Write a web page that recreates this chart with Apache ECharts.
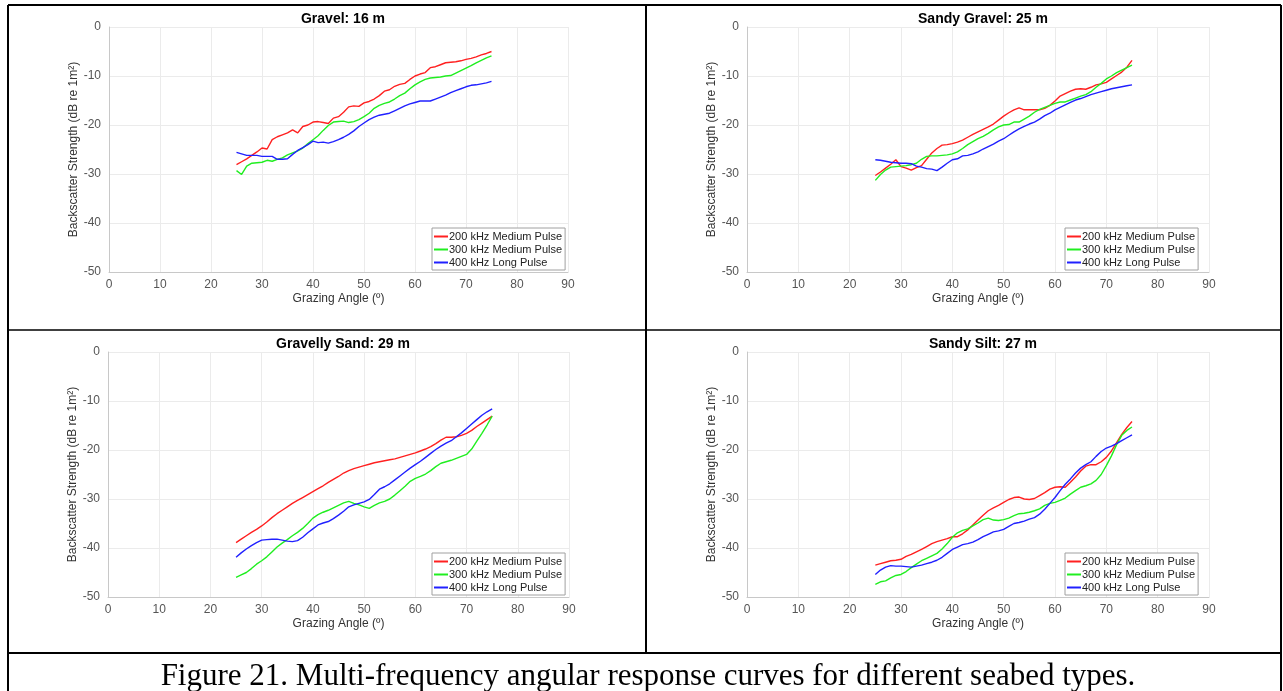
<!DOCTYPE html>
<html>
<head>
<meta charset="utf-8">
<title>Figure 21</title>
<script src="https://cdn.jsdelivr.net/npm/echarts@6/dist/echarts.min.js"></script>
<style>
  html, body { margin: 0; padding: 0; background: #fff; }
  #chart { width: 1283px; height: 691px; }
</style>
</head>
<body>
<div id="chart"></div>
<script>
// grazing angles (deg), same for every curve
const angles = [25,26,27,28,29,30,31,32,33,34,35,36,37,38,39,40,41,42,43,44,45,46,47,48,49,50,
  51,52,53,54,55,56,57,58,59,60,61,62,63,64,65,66,67,68,69,70,71,72,73,74,75]

const legendNames = ['200 kHz Medium Pulse', '300 kHz Medium Pulse', '400 kHz Long Pulse']
const panelTitles = ['Gravel: 16 m', 'Sandy Gravel: 25 m', 'Gravelly Sand: 29 m', 'Sandy Silt: 27 m']
const xTicks = [0, 10, 20, 30, 40, 50, 60, 70, 80, 90]
const yTicks = [-50, -40, -30, -20, -10, 0]

// Gravel: 16 m
const gravel200 = [-28.1,-27.5,-26.9,-26.2,-25.5,-24.7,-24.9,-23.0,-22.4,-22.0,-21.6,-21.0,-21.6,-20.3,-20.0,-19.4,-19.3,-19.5,-19.7,-18.6,
  -18.3,-17.4,-16.3,-16.1,-16.2,-15.5,-15.2,-14.7,-14.0,-13.1,-12.8,-12.1,-11.7,-11.5,-10.7,-10.0,-9.6,-9.3,-8.3,-8.1,
  -7.7,-7.3,-7.2,-7.1,-6.9,-6.6,-6.4,-6.1,-5.7,-5.4,-5.0]
const gravel300 = [-29.3,-30.1,-28.4,-27.8,-27.7,-27.6,-27.2,-27.4,-27.0,-26.7,-26.1,-25.7,-25.3,-24.7,-23.8,-23.0,-22.2,-21.1,-20.1,-19.4,
  -19.3,-19.2,-19.5,-19.3,-18.9,-18.3,-17.6,-16.6,-16.0,-15.6,-15.3,-14.7,-14.0,-13.5,-12.6,-11.8,-11.2,-10.7,-10.4,-10.3,
  -10.2,-10.0,-9.9,-9.4,-8.9,-8.4,-7.9,-7.3,-6.8,-6.3,-5.9]
const gravel400 = [-25.6,-25.9,-26.2,-26.2,-26.2,-26.4,-26.4,-26.4,-27.0,-27.0,-26.9,-26.0,-25.2,-24.6,-24.0,-23.3,-23.6,-23.5,-23.7,-23.4,
  -23.0,-22.5,-21.9,-21.2,-20.3,-19.6,-18.9,-18.4,-18.0,-17.8,-17.6,-17.1,-16.6,-16.1,-15.7,-15.4,-15.1,-15.1,-15.1,-14.7,
  -14.3,-13.9,-13.4,-13.0,-12.6,-12.2,-11.9,-11.8,-11.6,-11.4,-11.1]

// Sandy Gravel: 25 m
const sandyGravel200 = [-30.3,-29.6,-28.8,-28.0,-27.1,-28.5,-28.8,-29.2,-28.7,-28.3,-27.0,-25.7,-24.8,-24.1,-24.0,-23.8,-23.5,-23.1,-22.5,-21.9,
  -21.4,-20.9,-20.4,-19.8,-19.0,-18.2,-17.5,-16.9,-16.5,-16.9,-16.9,-16.9,-16.9,-16.6,-16.0,-15.1,-14.1,-13.6,-13.1,-12.7,
  -12.6,-12.7,-12.3,-11.8,-11.6,-11.3,-10.6,-9.9,-9.2,-8.2,-6.8]
const sandyGravel300 = [-31.3,-30.1,-29.2,-28.6,-28.5,-28.4,-28.3,-28.1,-27.8,-27.0,-26.4,-26.3,-26.3,-26.2,-26.1,-25.9,-25.5,-24.8,-24.0,-23.4,
  -22.8,-22.3,-21.7,-21.0,-20.4,-20.0,-19.9,-19.4,-19.4,-18.8,-18.2,-17.4,-16.8,-16.4,-16.0,-15.6,-15.3,-15.3,-14.9,-14.5,
  -14.1,-13.8,-13.2,-12.3,-11.5,-10.6,-10.0,-9.3,-8.8,-8.3,-7.8]
const sandyGravel400 = [-27.1,-27.2,-27.4,-27.6,-27.7,-27.8,-27.8,-27.9,-28.4,-28.6,-28.9,-29.0,-29.3,-28.6,-27.8,-27.1,-26.9,-26.3,-26.2,-25.9,
  -25.5,-24.9,-24.4,-23.9,-23.3,-22.8,-22.1,-21.4,-20.8,-20.3,-19.8,-19.4,-18.8,-18.1,-17.6,-16.9,-16.4,-15.9,-15.4,-14.9,
  -14.6,-14.2,-13.8,-13.5,-13.2,-12.9,-12.6,-12.4,-12.2,-12.0,-11.8]

// Gravelly Sand: 29 m
const gravellySand200 = [-38.9,-38.2,-37.5,-36.8,-36.2,-35.5,-34.7,-33.8,-33.0,-32.3,-31.6,-30.9,-30.3,-29.7,-29.1,-28.5,-27.9,-27.3,-26.6,-26.0,
  -25.4,-24.7,-24.2,-23.8,-23.5,-23.2,-22.9,-22.6,-22.4,-22.2,-22.0,-21.8,-21.5,-21.2,-20.9,-20.6,-20.2,-19.8,-19.3,-18.7,
  -18.0,-17.4,-17.4,-17.3,-17.0,-16.6,-16.0,-15.2,-14.5,-13.8,-13.1]
const gravellySand300 = [-46.0,-45.5,-45.0,-44.2,-43.3,-42.6,-41.8,-40.8,-39.8,-39.0,-38.3,-37.5,-36.8,-36.0,-35.0,-33.9,-33.2,-32.7,-32.3,-31.8,
  -31.3,-30.8,-30.5,-30.9,-31.2,-31.6,-31.9,-31.3,-30.8,-30.5,-30.0,-29.2,-28.3,-27.4,-26.4,-25.8,-25.4,-24.9,-24.2,-23.4,
  -22.7,-22.4,-22.1,-21.7,-21.3,-20.9,-19.8,-18.2,-16.6,-14.9,-13.1]
const gravellySand400 = [-41.9,-41.0,-40.2,-39.5,-38.9,-38.4,-38.3,-38.2,-38.2,-38.4,-38.6,-38.7,-38.5,-37.8,-36.9,-36.1,-35.3,-34.9,-34.6,-34.0,
  -33.3,-32.5,-31.6,-31.2,-30.9,-30.6,-30.1,-29.1,-28.0,-27.5,-26.9,-26.1,-25.3,-24.5,-23.7,-23.0,-22.3,-21.5,-20.7,-19.9,
  -19.2,-18.6,-18.1,-17.3,-16.5,-15.6,-14.7,-13.8,-12.9,-12.2,-11.6]

// Sandy Silt: 27 m
const sandySilt200 = [-43.5,-43.2,-42.9,-42.6,-42.5,-42.3,-41.7,-41.3,-40.8,-40.3,-39.7,-39.1,-38.7,-38.4,-38.1,-37.7,-37.7,-37.1,-36.3,-35.3,
  -34.3,-33.3,-32.4,-31.8,-31.3,-30.7,-30.1,-29.7,-29.6,-30.0,-30.1,-29.9,-29.3,-28.7,-28.0,-27.6,-27.5,-27.6,-26.6,-25.5,
  -24.3,-23.3,-23.0,-23.0,-22.4,-21.5,-20.2,-18.5,-16.8,-15.4,-14.2]
const sandySilt300 = [-47.4,-46.9,-46.7,-46.1,-45.6,-45.4,-44.8,-44.0,-43.3,-42.6,-42.1,-41.6,-41.1,-40.2,-39.1,-37.8,-36.9,-36.4,-36.1,-35.5,
  -34.9,-34.2,-33.9,-34.3,-34.4,-34.2,-33.9,-33.4,-33.0,-32.9,-32.7,-32.4,-32.0,-31.3,-30.9,-30.7,-30.3,-29.8,-29.0,-28.3,
  -27.6,-27.3,-26.9,-26.2,-25.0,-23.2,-21.2,-18.9,-17.0,-16.0,-15.3]
const sandySilt400 = [-45.4,-44.5,-43.9,-43.6,-43.7,-43.7,-43.8,-43.9,-43.7,-43.5,-43.2,-42.9,-42.5,-41.9,-41.1,-40.3,-39.8,-39.3,-39.1,-38.8,
  -38.3,-37.7,-37.2,-36.7,-36.5,-36.2,-35.6,-35.0,-34.8,-34.5,-34.1,-33.8,-33.1,-32.1,-30.9,-29.7,-28.3,-27.0,-25.9,-24.7,
  -23.7,-23.0,-22.4,-21.3,-20.3,-19.6,-19.2,-18.7,-18.1,-17.5,-16.9]

const panelData = [
  [gravel200, gravel300, gravel400],
  [sandyGravel200, sandyGravel300, sandyGravel400],
  [gravellySand200, gravellySand300, gravellySand400],
  [sandySilt200, sandySilt300, sandySilt400]
]
const lineColors = ['#ff2020', '#20ee20', '#2020ff']

// panel boxes in page pixels
const panels = [
  { left: 109, top: 27, width: 459, height: 245, cx: 338, titleY: 7, legendX: 432, legendY: 228 },
  { left: 747, top: 27, width: 462, height: 245, cx: 978, titleY: 7, legendX: 1065, legendY: 228 },
  { left: 108, top: 352, width: 461, height: 245, cx: 338, titleY: 332, legendX: 432, legendY: 553 },
  { left: 747, top: 352, width: 462, height: 245, cx: 978, titleY: 332, legendX: 1065, legendY: 553 }
]

const fontFamily = 'Liberation Sans, Arial, sans-serif'

let myChart = echarts.init(document.getElementById('chart'))

let grids = [], xAxes = [], yAxes = [], seriesData = [], legends = [], titles = []
for (let p = 0; p < panels.length; p++) {
  let b = panels[p]
  grids.push({ left: b.left, top: b.top, width: b.width, height: b.height, show: false })
  xAxes.push({
    gridIndex: p, type: 'value', min: 0, max: 90, interval: 10,
    name: 'Grazing Angle (º)', nameLocation: 'middle', nameGap: 21,
    nameTextStyle: { color: '#333', fontSize: 12, fontFamily: fontFamily },
    axisLine: { show: true, onZero: false, lineStyle: { color: '#c8c8c8', width: 1 } },
    axisTick: { show: false },
    axisLabel: { color: '#555', fontSize: 12, fontFamily: fontFamily, margin: 7,
      formatter: v => xTicks.indexOf(v) >= 0 ? String(v) : '' },
    splitLine: { show: true, lineStyle: { color: '#ebebeb', width: 1 } }
  })
  yAxes.push({
    gridIndex: p, type: 'value', min: -50, max: 0, interval: 10,
    name: 'Backscatter Strength (dB re 1m²)', nameLocation: 'middle', nameGap: 24,
    nameTextStyle: { color: '#333', fontSize: 12, fontFamily: fontFamily },
    axisLine: { show: true, onZero: false, lineStyle: { color: '#c8c8c8', width: 1 } },
    axisTick: { show: false },
    axisLabel: { color: '#555', fontSize: 12, fontFamily: fontFamily, margin: 8,
      formatter: v => yTicks.indexOf(v) >= 0 ? String(v) : '' },
    splitLine: { show: true, lineStyle: { color: '#ebebeb', width: 1 } }
  })
  for (let s = 0; s < 3; s++) {
    let pts = []
    for (let i = 0; i < angles.length; i++) pts.push([angles[i], panelData[p][s][i]])
    seriesData.push({
      name: legendNames[s], type: 'line', xAxisIndex: p, yAxisIndex: p,
      showSymbol: false, symbol: 'none', smooth: false, animation: false,
      lineStyle: { color: lineColors[s], width: 1.4 },
      itemStyle: { color: lineColors[s] },
      data: pts
    })
  }
  legends.push({
    left: b.legendX, top: b.legendY, orient: 'vertical',
    data: legendNames, icon: 'rect', itemWidth: 14, itemHeight: 2, itemGap: 2,
    padding: [3, 3, 2, 2], backgroundColor: '#fff', borderColor: '#a0a0a0', borderWidth: 1,
    textStyle: { fontSize: 11, color: '#222', fontFamily: fontFamily, padding: [0, 0, 0, -4] },
    selectedMode: false
  })
  titles.push({
    text: panelTitles[p], left: b.cx, top: b.titleY, textAlign: 'center',
    textStyle: { fontSize: 14, fontWeight: 'bold', color: '#000', fontFamily: fontFamily }
  })
}

// caption under the table
titles.push({
  text: 'Figure 21. Multi-frequency angular response curves for different seabed types.',
  left: 643, top: 656, textAlign: 'center',
  textStyle: { fontSize: 31, fontWeight: 'normal', color: '#000', fontFamily: 'Liberation Serif, Times New Roman, serif' }
})

// table border lines
const borderLines = [
  [8, 5, 1281, 5, 2], [8, 5, 8, 691, 2], [1281, 5, 1281, 691, 2],
  [646, 5, 646, 653, 2], [8, 330, 1281, 330, 1.5], [8, 653, 1281, 653, 2]
]
let graphics = borderLines.map(l => ({
  type: 'line', silent: true,
  shape: { x1: l[0], y1: l[1], x2: l[2], y2: l[3] },
  style: { stroke: '#000', lineWidth: l[4] }
}))

let option = {
  animation: false,
  title: titles,
  grid: grids,
  xAxis: xAxes,
  yAxis: yAxes,
  legend: legends,
  graphic: graphics,
  series: seriesData
}
myChart.setOption(option)
window.addEventListener('resize', function() {
  myChart.resize()
})
</script>
</body>
</html>
